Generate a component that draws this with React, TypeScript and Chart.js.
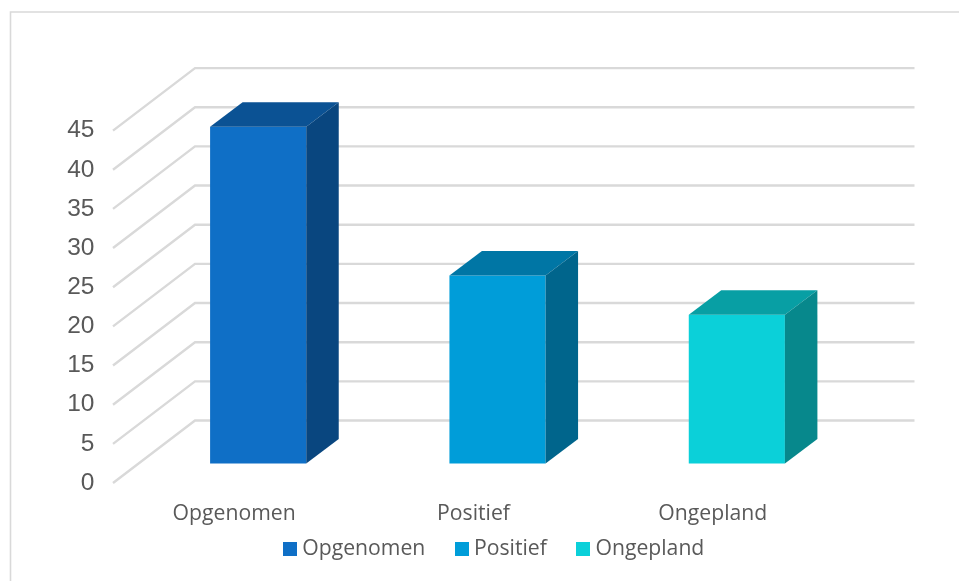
import React, { useEffect, useRef } from "react";
import { Chart, registerables } from "chart.js";

Chart.register(...registerables);

const categories = ["Opgenomen", "Positief", "Ongepland"];
const values = [43, 24, 19];
const frontColors = ["#0F6FC6", "#009DD9", "#0BD0D9"];
const topColors = ["#0B5294", "#0076A5", "#089FA4"];
const sideColors = ["#09467F", "#00658C", "#07888C"];
const yTicks = [0, 5, 10, 15, 20, 25, 30, 35, 40, 45];

const WALL_DX = 82;
const WALL_DY = -62.5;
const BAR_SHIFT_X = 24;
const BAR_SHIFT_Y = -19.5;
const BAR_DX = 32.5;
const BAR_DY = -24.5;
const GRID = "#D9D9D9";
const TEXT = "#595959";
const LABEL_FONT = "'Open Sans'";
const LABEL_SIZE = 21.2;
const LEGEND_PADDING = 35;
const LEGEND_BAND = 40;

function swatch(color: string) {
  const c = document.createElement("canvas");
  c.width = 14;
  c.height = 14;
  const g = c.getContext("2d")!;
  g.fillStyle = color;
  g.fillRect(0, 0, 14, 14);
  return c;
}

const poly = (ctx: CanvasRenderingContext2D, pts: number[][], color: string) => {
  ctx.beginPath();
  pts.forEach((p, i) => (i ? ctx.lineTo(p[0], p[1]) : ctx.moveTo(p[0], p[1])));
  ctx.closePath();
  ctx.fillStyle = color;
  ctx.fill();
};

const frame = {
  id: "frame",
  beforeDraw(chart: any) {
    const { ctx, width, height } = chart;
    ctx.save();
    ctx.strokeStyle = GRID;
    ctx.lineWidth = 1.6;
    ctx.beginPath();
    ctx.moveTo(10.5, height);
    ctx.lineTo(10.5, 12);
    ctx.lineTo(width, 12);
    ctx.stroke();
    ctx.restore();
  },
};

const walls = {
  id: "walls",
  beforeDatasetsDraw(chart: any) {
    const { ctx, chartArea, scales } = chart;
    ctx.save();
    ctx.strokeStyle = GRID;
    ctx.lineWidth = 2.4;
    ctx.lineJoin = "miter";
    scales.y.ticks.forEach((t: any) => {
      const y = scales.y.getPixelForValue(t.value);
      ctx.beginPath();
      ctx.moveTo(chartArea.left - 1.5, y);
      ctx.lineTo(chartArea.left - 1.5 + WALL_DX, y + WALL_DY);
      ctx.lineTo(chartArea.right + WALL_DX, y + WALL_DY);
      ctx.stroke();
    });
    ctx.restore();
    ctx.save();
    ctx.translate(BAR_SHIFT_X, BAR_SHIFT_Y);
  },
  afterDatasetsDraw(chart: any) {
    const { ctx } = chart;
    chart.getDatasetMeta(0).data.forEach((el: any, i: number) => {
      const l = el.x - el.width / 2;
      const r = el.x + el.width / 2;
      poly(ctx, [[l, el.y], [l + BAR_DX, el.y + BAR_DY], [r + BAR_DX, el.y + BAR_DY], [r, el.y]], topColors[i]);
      poly(ctx, [[r, el.y], [r + BAR_DX, el.y + BAR_DY], [r + BAR_DX, el.base + BAR_DY], [r, el.base]], sideColors[i]);
    });
    ctx.restore();
  },
};

const legendPlace = {
  id: "legendPlace",
  beforeLayout(chart: any) {
    const lg = chart.legend;
    if (lg && !lg.__bandFit) {
      const fit = lg.fit.bind(lg);
      lg.fit = () => {
        fit();
        lg.height = LEGEND_BAND;
      };
      lg.__bandFit = true;
    }
  },
  afterLayout(chart: any) {
    const lg = chart.legend;
    const dx = 496.5 - (lg.left + lg.right) / 2;
    lg.left += dx;
    lg.right += dx;
    lg.top = 548 - 9.6 - LEGEND_PADDING;
    lg.bottom = chart.height;
  },
};

export default function App() {
  const ref = useRef<HTMLCanvasElement | null>(null);
  useEffect(() => {
    const chart = new Chart(ref.current!, {
      type: "bar",
      data: {
        labels: categories,
        datasets: [
          {
            label: "Aantal",
            data: values,
            backgroundColor: frontColors,
            borderWidth: 0,
            barPercentage: 1,
            categoryPercentage: 0.4017,
            clip: false,
          } as any,
        ],
      },
      plugins: [frame, walls, legendPlace],
      options: {
        responsive: false,
        animation: false,
        layout: { padding: { left: 0, top: 130.6, right: 126.5, bottom: 0 } },
        plugins: {
          title: { display: false },
          tooltip: { enabled: false },
          legend: {
            display: true,
            position: "bottom",
            labels: {
              usePointStyle: true,
              pointStyleWidth: 3,
              padding: LEGEND_PADDING,
              color: TEXT,
              font: { family: LABEL_FONT, size: LABEL_SIZE },
              generateLabels: () =>
                categories.map((text, i) => ({
                  text,
                  fontColor: TEXT,
                  pointStyle: swatch(frontColors[i]),
                  datasetIndex: 0,
                  index: i,
                  hidden: false,
                })),
            },
          },
        },
        scales: {
          x: {
            type: "category",
            grid: { display: false, drawTicks: false },
            border: { display: false },
            ticks: { color: TEXT, font: { family: LABEL_FONT, size: LABEL_SIZE }, padding: 18.5, maxRotation: 0 },
            afterFit(s: any) {
              s.height = 98 - LEGEND_BAND;
            },
          },
          y: {
            min: 0,
            max: 45,
            grid: { display: false, drawTicks: false },
            border: { display: false },
            afterBuildTicks(s: any) {
              s.ticks = yTicks.map((value) => ({ value }));
            },
            ticks: {
              color: TEXT,
              font: { family: "'Liberation Sans'", size: 24.5 },
              padding: 20,
            },
            afterFit(s: any) {
              s.width = 114.5;
            },
          },
        },
      } as any,
    });
    return () => chart.destroy();
  }, []);
  return (
    <div style={{ position: "fixed", left: 0, top: 0, width: 959, height: 581, background: "#fff" }}>
      <canvas ref={ref} width={959} height={581} style={{ display: "block" }} />
    </div>
  );
}
